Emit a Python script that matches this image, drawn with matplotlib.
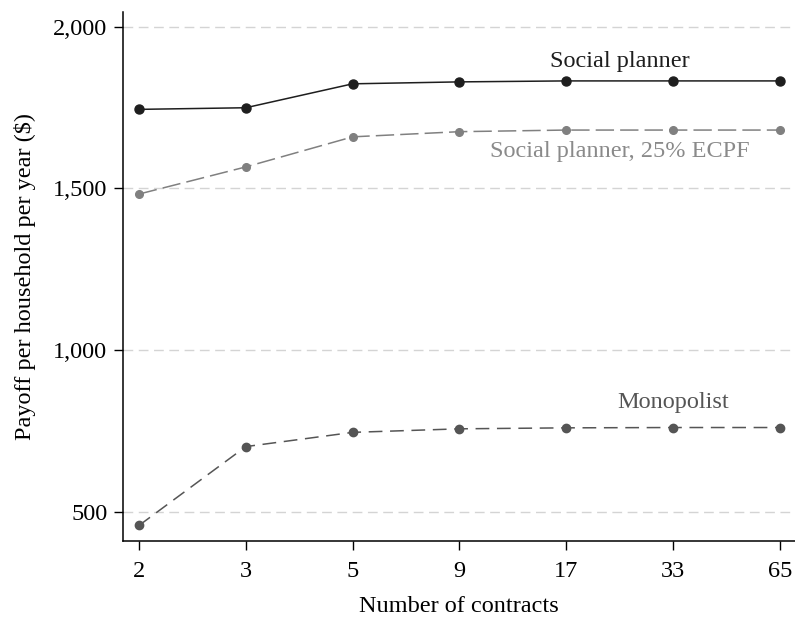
import matplotlib
matplotlib.use("Agg")
import matplotlib.pyplot as plt

contracts = ["2", "3", "5", "9", "17", "33", "65"]
social_planner = [1744, 1749, 1823, 1829, 1832, 1832, 1832]
social_planner_ecpf = [1482, 1566, 1659, 1675, 1680, 1680, 1680]
monopolist = [457, 701, 745, 756, 759, 760, 760]
y_ticks = [500, 1000, 1500, 2000]
y_tick_labels = ["500", "1,000", "1,500", "2,000"]

plt.rcParams['font.family'] = ['Liberation Serif', 'DejaVu Serif']

fig = plt.figure(figsize=(7.95, 6.2), dpi=100)
ax = fig.add_axes([0.155, 0.1274, 0.845, 0.8537])

x = list(range(len(contracts)))

for yv in y_ticks:
    ax.axhline(yv, color="#d4d4d4", lw=1.0, dashes=(7, 4), zorder=0)

ax.plot(x, social_planner, color="#1e1e1e", lw=1.1, marker="o", ms=6.5, zorder=3)
ax.plot(x, social_planner_ecpf, color="#808080", lw=1.1, marker="o", ms=5.5,
        dashes=(12, 4), zorder=3)
ax.plot(x, monopolist, color="#555555", lw=1.1, marker="o", ms=6,
        dashes=(9, 5), zorder=3)

ax.text(4.5, 1891, "Social planner", color="#1e1e1e", fontsize=17.5, ha="center", va="center")
ax.text(4.5, 1613, "Social planner, 25% ECPF", color="#8a8a8a", fontsize=17.5, ha="center", va="center")
ax.text(5.0, 836, "Monopolist", color="#555555", fontsize=17.5, ha="center", va="center")

ax.set_xlim(-0.147, 6.14)
ax.set_ylim(409, 2046)
ax.set_xticks(x)
ax.set_xticklabels(contracts)
ax.set_yticks(y_ticks)
ax.set_yticklabels(y_tick_labels)
ax.tick_params(axis="both", direction="out", length=6.5, width=1, labelsize=17.5, colors="black")
ax.tick_params(axis="x", pad=8)
ax.tick_params(axis="y", pad=5)

for s in ["top", "right"]:
    ax.spines[s].set_visible(False)
for s in ["left", "bottom"]:
    ax.spines[s].set_linewidth(1.1)
    ax.spines[s].set_color("black")

ax.set_xlabel("Number of contracts", fontsize=17.5, labelpad=10)
ax.set_ylabel("Payoff per household per year ($)", fontsize=17.5, labelpad=12)

fig.savefig("out.png", dpi=100)
